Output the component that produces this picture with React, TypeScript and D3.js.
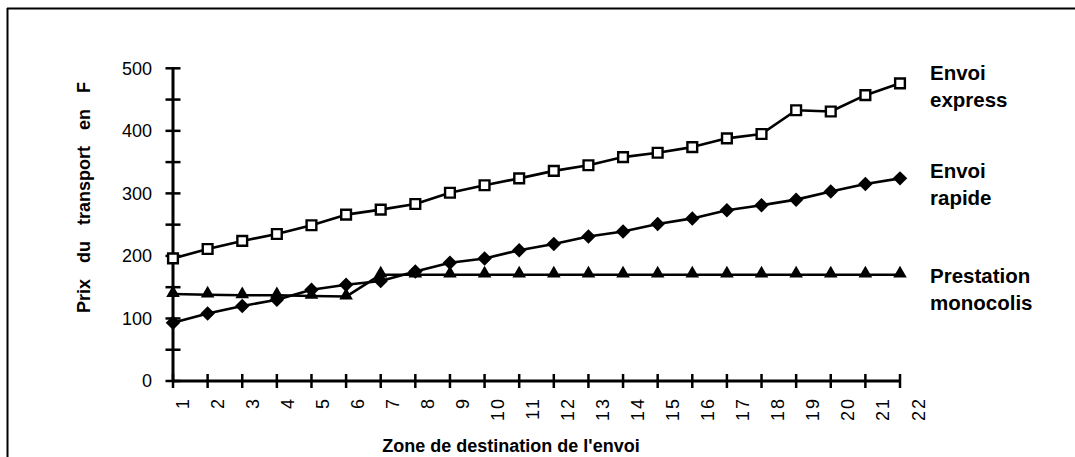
import React from "react";
import * as d3 from "d3";

// Zones de destination
const zones: number[] = [1, 2, 3, 4, 5, 6, 7, 8, 9, 10, 11, 12, 13, 14, 15, 16, 17, 18, 19, 20, 21, 22];

// Prix du transport (F) par zone
const envoiExpress: number[] = [196, 211, 224, 235, 249, 266, 274, 283, 301, 313, 324, 336, 345, 358, 365, 374, 388, 395, 433, 431, 457, 476];
const envoiRapide: number[] = [93, 108, 120, 130, 146, 154, 160, 175, 189, 196, 209, 219, 231, 239, 251, 260, 273, 281, 290, 303, 315, 324];
const prestationMonocolis: number[] = [139, 138, 137, 137, 136, 135, 170, 170, 170, 170, 170, 170, 170, 170, 170, 170, 170, 170, 170, 170, 170, 170];

const yMajorTicks: number[] = [0, 100, 200, 300, 400, 500];
const yAllTicks: number[] = [0, 50, 100, 150, 200, 250, 300, 350, 400, 450, 500];

const yTitle = "Prix du transport en F";
const xTitle = "Zone de destination de l'envoi";

const W = 1075;
const H = 457;
const FONT = "'Liberation Sans', Arial, Helvetica, sans-serif";

export default function App() {
  const x = d3.scaleLinear().domain([1, 22]).range([173, 900]);
  const xLabel = d3.scaleLinear().domain([1, 22]).range([182, 918]);
  const y = d3.scaleLinear().domain([0, 500]).range([381, 68.3]);

  const line = d3
    .line<number>()
    .x((_, i) => x(zones[i]))
    .y((v) => y(v));

  const square = d3.symbol().type(d3.symbolSquare).size(95)()!;
  const diamond = d3.symbol().type(d3.symbolSquare).size(105)()!;
  const triangle = d3.symbol().type(d3.symbolTriangle).size(80)()!;

  const legend = [
    { lines: ["Envoi", "express"], y: 80 },
    { lines: ["Envoi", "rapide"], y: 178 },
    { lines: ["Prestation", "monocolis"], y: 283 },
  ];

  return (
    <svg
      width={W}
      height={H}
      style={{ position: "absolute", left: 0, top: 0, background: "#fff" }}
      fontFamily={FONT}
    >
      {/* cadre */}
      <line x1={7} y1={8.5} x2={W} y2={8.5} stroke="#000" strokeWidth={2} />
      <line x1={7.5} y1={8} x2={7.5} y2={H} stroke="#000" strokeWidth={2} />

      {/* axe Y */}
      <line x1={x(1)} y1={y(500) - 1} x2={x(1)} y2={y(0) + 1} stroke="#000" strokeWidth={3} />
      {yAllTicks.map((t) => (
        <line key={"yt" + t} x1={x(1) - 7.5} x2={x(1) + 7.5} y1={y(t)} y2={y(t)} stroke="#000" strokeWidth={2.5} />
      ))}
      {yMajorTicks.map((t) => (
        <text key={"yl" + t} x={152} y={y(t)} dy="0.36em" textAnchor="end" fontSize={18} fill="#000">
          {t}
        </text>
      ))}

      {/* axe X */}
      <line x1={x(1) - 1} y1={y(0)} x2={x(22) + 1} y2={y(0)} stroke="#000" strokeWidth={3} />
      {zones.map((z) => (
        <line key={"xt" + z} x1={x(z)} x2={x(z)} y1={y(0) - 7} y2={y(0) + 7} stroke="#000" strokeWidth={2.5} />
      ))}
      {zones.map((z) => (
        <text
          key={"xl" + z}
          transform={`translate(${xLabel(z) + 6.5},397) rotate(-90)`}
          textAnchor="end"
          fontSize={18}
          letterSpacing={2}
          fill="#000"
        >
          {z}
        </text>
      ))}

      {/* titres des axes */}
      <text
        transform={`translate(90,197.5) rotate(-90)`}
        textAnchor="middle"
        fontSize={18}
        fontWeight="bold"
        wordSpacing={11}
        fill="#000"
      >
        {yTitle}
      </text>
      <text x={511} y={452} textAnchor="middle" fontSize={18} fontWeight="bold" fill="#000">
        {xTitle}
      </text>

      {/* séries */}
      <path d={line(prestationMonocolis)!} fill="none" stroke="#000" strokeWidth={2.6} strokeLinejoin="round" />
      <path d={line(envoiRapide)!} fill="none" stroke="#000" strokeWidth={2.6} strokeLinejoin="round" />
      <path d={line(envoiExpress)!} fill="none" stroke="#000" strokeWidth={2.6} strokeLinejoin="round" />

      {prestationMonocolis.map((v, i) => (
        <path key={"pm" + i} d={triangle} transform={`translate(${x(zones[i])},${y(v) - 1})`} fill="#000" />
      ))}
      {envoiRapide.map((v, i) => (
        <path key={"er" + i} d={diamond} transform={`translate(${x(zones[i])},${y(v)}) rotate(45)`} fill="#000" />
      ))}
      {envoiExpress.map((v, i) => (
        <path
          key={"ee" + i}
          d={square}
          transform={`translate(${x(zones[i])},${y(v)})`}
          fill="#fff"
          stroke="#000"
          strokeWidth={2.4}
        />
      ))}

      {/* légendes */}
      {legend.map((g, gi) =>
        g.lines.map((t, li) => (
          <text
            key={"lg" + gi + li}
            x={930}
            y={g.y + li * 27}
            fontSize={20.5}
            fontWeight="bold"
            fill="#000"
          >
            {t}
          </text>
        ))
      )}
    </svg>
  );
}
